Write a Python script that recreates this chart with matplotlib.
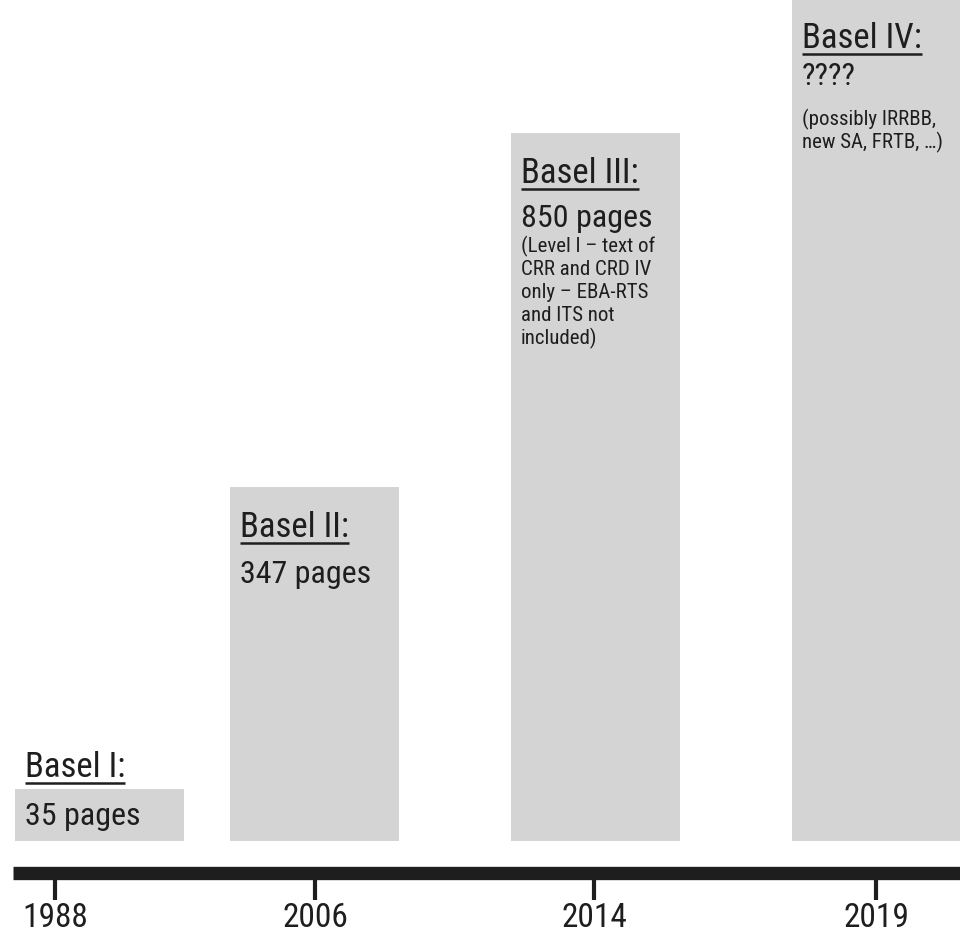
import matplotlib

matplotlib.use("Agg")
import matplotlib.pyplot as plt
from matplotlib import font_manager

# timeline content
titles = ["Basel I:", "Basel II:", "Basel III:", "Basel IV:"]
pages = ["35 pages", "347 pages", "850 pages", "????"]
notes = [
    [],
    [],
    ["(Level I – text of", "CRR and CRD IV", "only – EBA-RTS", "and ITS not", "included)"],
    ["(possibly IRRBB,", "new SA, FRTB, …)"],
]
years = ["1988", "2006", "2014", "2019"]
# schematic box heights (not to scale with the page counts)
box_height = [52, 354, 708, 900]


def pick_font():
    """Prefer a regular narrow/condensed face; fall back to plain sans."""
    entries = font_manager.fontManager.ttflist
    def narrow(f):
        st = f.stretch
        if isinstance(st, str):
            st = font_manager.stretch_dict.get(st, 500)
        return ("Narrow" in f.name or "Condensed" in f.name or st < 500)
    good = [f for f in entries
            if narrow(f) and f.style == "normal"
            and f.weight in (400, "normal", "regular", "book")]
    order = ["Liberation Sans Narrow", "Roboto Condensed", "Open Sans Condensed",
             "Noto Sans", "Noto Sans Condensed", "DejaVu Sans", "DejaVu Sans Condensed"]
    for name in order:
        for f in good:
            if f.name == name:
                return font_manager.FontProperties(fname=f.fname), f.name
    if good:
        return font_manager.FontProperties(fname=good[0].fname), good[0].name
    return font_manager.FontProperties(family=["Roboto", "DejaVu Sans"]), "Roboto"


FP, FONT_NAME = pick_font()

INK = "#1e1e1e"
BOX = "#d4d4d4"

fig = plt.figure(figsize=(9.6, 9.35), dpi=100)
ax = fig.add_axes([0, 0, 1, 1])
ax.set_xlim(0, 960)
ax.set_ylim(0, 935)
ax.axis("off")

baseline = 94
box_left = [15, 230, 511, 792]
box_width = 169
tick_x = [55, 315, 594, 876]


def txt(x, y, s, size, **kw):
    return ax.text(x, y, s, fontproperties=FP, fontsize=size, color=INK,
                   va="baseline", zorder=3, **kw)


ax.bar(box_left, box_height, width=box_width, bottom=baseline, align="edge",
       color=BOX, edgecolor="none", zorder=1)

# timeline axis with ticks and years
ax.plot([13, 960], [62.5, 62.5], color=INK, lw=9.6, solid_capstyle="butt", zorder=2)
ax.vlines(tick_x, 35, 60, color=INK, lw=3, zorder=2)
for x, yr in zip(tick_x, years):
    txt(x, 8, yr, 24, ha="center")

# text block inside each box: underlined title, page count, optional note
title_y = [158, 398, 752, 887]
pages_y = [110, 352, 708, 850]
note_y = [0, 0, 683, 810]
title_objs = []
for i in range(4):
    xl = box_left[i] + 10
    title_objs.append(txt(xl, title_y[i], titles[i], 25))
    txt(xl, pages_y[i], pages[i], 23)
    for k, line in enumerate(notes[i]):
        txt(xl, note_y[i] - 23 * k, line, 15)

fig.canvas.draw()
renderer = fig.canvas.get_renderer()
for i, t in enumerate(title_objs):
    bb = t.get_window_extent(renderer)
    ax.plot([bb.x0, bb.x1], [title_y[i] - 6, title_y[i] - 6], color=INK, lw=1.8,
            solid_capstyle="butt", zorder=3)

fig.savefig("out.png", dpi=100)
